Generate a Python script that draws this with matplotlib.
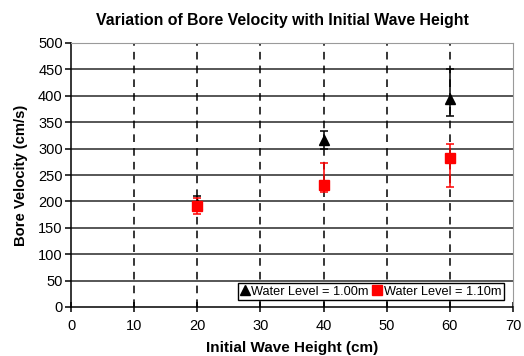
import matplotlib
matplotlib.use("Agg")
import matplotlib.pyplot as plt
from matplotlib.lines import Line2D

plt.rcParams['font.family'] = ['Liberation Sans', 'DejaVu Sans']

wave_height = [20, 40, 60]

vel_100 = [196, 316, 394]
err_100_low = [14, 17, 32]
err_100_high = [14, 17, 56]

vel_110 = [192, 232, 282]
err_110_low = [15, 14, 54]
err_110_high = [15, 40, 26]

x_ticks = [0, 10, 20, 30, 40, 50, 60, 70]
y_ticks = [0, 50, 100, 150, 200, 250, 300, 350, 400, 450, 500]

fig = plt.figure(figsize=(5.24, 3.56), dpi=100)
ax = fig.add_axes([71/524, 1-307/356, (513-71)/524, (307-43)/356])

ax.set_xlim(0, 70)
ax.set_ylim(0, 500)
ax.set_xticks(x_ticks)
ax.set_yticks(y_ticks)

# horizontal solid grid, vertical dashed grid
for y in y_ticks[1:]:
    ax.axhline(y, color='#3a3a3a', lw=1.2, zorder=1)
for x in x_ticks[1:-1]:
    ax.axvline(x, color='black', lw=1.1, ls=(0, (5, 4)), zorder=1)

ax.errorbar(wave_height, vel_100, yerr=[err_100_low, err_100_high], fmt='^',
            color='black', ms=7.5, capsize=3, elinewidth=1.1, capthick=1.1,
            zorder=3, label='Water Level = 1.00m')
ax.errorbar(wave_height, vel_110, yerr=[err_110_low, err_110_high], fmt='s',
            color='red', ms=7.5, capsize=3, elinewidth=1.1, capthick=1.1,
            zorder=3, label='Water Level = 1.10m')

for side in ['top', 'right']:
    ax.spines[side].set_color('#9a9a9a')
for side in ['left', 'bottom']:
    ax.spines[side].set_color('black')
    ax.spines[side].set_linewidth(1.1)

ax.tick_params(axis='x', direction='inout', length=7, width=1.1,
               labelsize=10.5, pad=5)
ax.tick_params(axis='y', direction='out', length=4, width=1.1,
               labelsize=10.5, pad=2)

handles = [Line2D([], [], marker='^', color='black', ls='none', ms=6.5),
           Line2D([], [], marker='s', color='red', ls='none', ms=6.5)]
leg = ax.legend(handles, ['Water Level = 1.00m', 'Water Level = 1.10m'],
                loc='lower right', bbox_to_anchor=(0.985, 0.015), ncol=2,
                fontsize=9.2, frameon=True, fancybox=False, handlelength=0.6,
                handletextpad=0.2, columnspacing=0.4, borderpad=0.2,
                borderaxespad=0.2)
leg.get_frame().set_edgecolor('black')
leg.get_frame().set_linewidth(1.0)
leg.get_frame().set_alpha(1)

ax.set_xlabel('Initial Wave Height (cm)', fontsize=11, fontweight='bold',
              labelpad=6)
ax.set_ylabel('Bore Velocity (cm/s)', fontsize=10.6, fontweight='bold',
              labelpad=7)

fig.text(282/524, 1-20/356, 'Variation of Bore Velocity with Initial Wave Height',
         ha='center', va='center', fontsize=11.4, fontweight='bold')

fig.savefig('out.png', dpi=100)
